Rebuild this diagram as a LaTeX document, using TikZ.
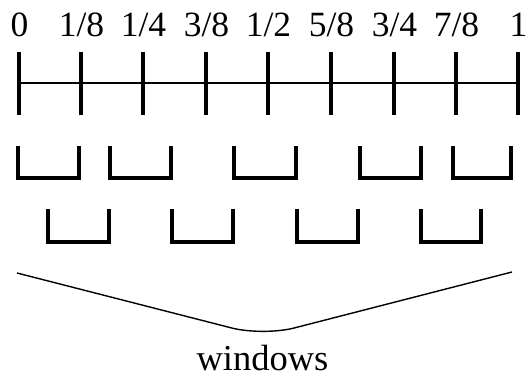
\documentclass[tikz,border=0pt]{standalone}
\usepackage{fontspec}
\setmainfont{Liberation Serif}
\begin{document}
\begin{tikzpicture}[x=1pt,y=-1pt,
  tickmark/.style={line width=3.8pt},
  axisline/.style={line width=2.6pt},
  win/.style={line width=3.8pt,line cap=butt,line join=miter},
  lbl/.style={font=\fontsize{35.5}{40}\selectfont,anchor=base,inner sep=0pt,text depth=0pt},
  brace/.style={line width=1.4pt,rounded corners=32pt}]
\useasboundingbox (0,0) rectangle (527,377);
% axis with ticks and labels
\foreach \x/\t [count=\i] in {19/0,81/1\slash 8,143/1\slash 4,206/3\slash 8,268/1\slash 2,331/5\slash 8,394/3\slash 4,456/7\slash 8,518/1}{
  \coordinate (t\i) at (\x,83);
  \draw[tickmark] (\x,52) -- (\x,115);
  \node[lbl] (l\i) at (\x+0.5,37) {\t};
}
\draw[axisline] (t1) -- (t9);
% first row of windows
\foreach \a/\b [count=\i] in {16/81,108/173,232/298,358/423,451/513}{
  \coordinate (ua\i) at (\a+1.9,146);
  \coordinate (ub\i) at (\b-1.9,146);
  \draw[win] (ua\i) -- (\a+1.9,178) -- (\b-1.9,178) -- (ub\i);
}
% second row of windows
\foreach \a/\b [count=\i] in {46/111,170/235,295/360,419/483}{
  \coordinate (va\i) at (\a+1.9,209);
  \coordinate (vb\i) at (\b-1.9,209);
  \draw[win] (va\i) -- (\a+1.9,242) -- (\b-1.9,242) -- (vb\i);
}
% brace gathering the windows
\coordinate (bl) at (17,273);
\coordinate (bm) at (263,336);
\coordinate (br) at (512,272);
\draw[brace] (bl) -- (bm) -- (br);
\node[lbl,font=\fontsize{36.5}{42}\selectfont] (w) at (262.5,370.5) {windows};
\end{tikzpicture}
\end{document}
